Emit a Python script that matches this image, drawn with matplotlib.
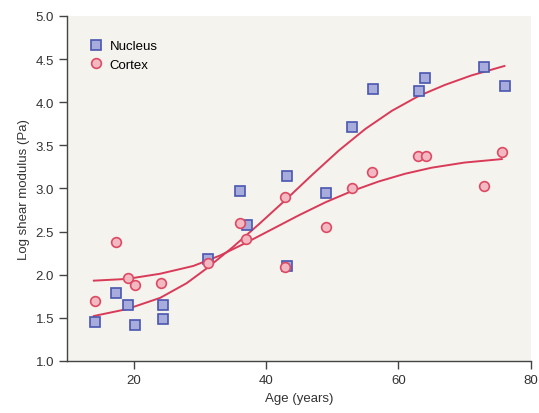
import matplotlib
matplotlib.use("Agg")
import matplotlib.pyplot as plt

plt.rcParams['font.family'] = ['Liberation Sans', 'DejaVu Sans']

# measured points
nucleus_age = [14.1, 17.4, 19.1, 20.2, 24.4, 24.4, 31.2, 36.1, 37.2, 43.1, 43.1,
               49.1, 53.0, 56.2, 63.1, 64.0, 72.9, 76.1]
nucleus_mod = [1.45, 1.79, 1.65, 1.42, 1.65, 1.48, 2.18, 2.97, 2.58, 3.14, 2.10,
               2.95, 3.71, 4.15, 4.13, 4.28, 4.41, 4.19]

cortex_age = [14.1, 17.3, 19.1, 20.2, 24.1, 31.2, 36.0, 37.0, 42.9, 42.9,
              49.1, 53.0, 56.0, 63.0, 64.2, 72.9, 75.7]
cortex_mod = [1.69, 2.38, 1.96, 1.88, 1.90, 2.13, 2.60, 2.41, 2.90, 2.09,
              2.55, 3.00, 3.19, 3.38, 3.38, 3.03, 3.42]

# fitted curves
nucleus_fit_age = [14, 19, 24, 28, 31, 35, 39, 43, 47, 51, 55, 59, 63, 67, 71, 76]
nucleus_fit = [1.52, 1.60, 1.73, 1.90, 2.07, 2.32, 2.59, 2.87, 3.16, 3.44, 3.69,
               3.90, 4.07, 4.20, 4.31, 4.42]

cortex_fit_age = [14, 19, 24, 29, 33, 37, 41, 45, 49, 53, 57, 61, 65, 70, 75.6]
cortex_fit = [1.93, 1.95, 2.01, 2.10, 2.22, 2.37, 2.53, 2.69, 2.84, 2.97, 3.08,
              3.17, 3.24, 3.30, 3.34]

line_col = '#d93a58'

fig = plt.figure(figsize=(5.39, 4.14), dpi=100)
ax = fig.add_axes([0.125, 0.126, 0.86, 0.833])
ax.set_facecolor('#f4f3ee')

ax.plot(nucleus_fit_age, nucleus_fit, color=line_col, lw=1.4, zorder=2)
ax.plot(cortex_fit_age, cortex_fit, color=line_col, lw=1.4, zorder=2)

ax.plot(nucleus_age, nucleus_mod, 's', ms=6.5, mfc='#a8acdc', mec='#4a56b0',
        mew=1.2, label='Nucleus', zorder=3)
ax.plot(cortex_age, cortex_mod, 'o', ms=7, mfc='#f3b9c2', mec='#dc4a63',
        mew=1.2, label='Cortex', zorder=4)

ax.set_xlim(10, 80)
ax.set_ylim(1.0, 5.0)
ax.set_xticks([20, 40, 60, 80])
ax.set_yticks([1.0, 1.5, 2.0, 2.5, 3.0, 3.5, 4.0, 4.5, 5.0])
ax.set_yticklabels(['1.0', '1.5', '2.0', '2.5', '3.0', '3.5', '4.0', '4.5', '5.0'])

for s in ['top', 'right']:
    ax.spines[s].set_visible(False)
for s in ['left', 'bottom']:
    ax.spines[s].set_color('#444444')
    ax.spines[s].set_linewidth(1.0)
ax.tick_params(colors='#444444', labelcolor='#333333', labelsize=9.5, length=6, width=1.0)

ax.set_xlabel('Age (years)', fontsize=9.5, color='#333333')
ax.set_ylabel('Log shear modulus (Pa)', fontsize=9.5, color='#333333')

ax.legend(loc='upper left', bbox_to_anchor=(0.02, 0.965), frameon=False,
          fontsize=9.5, handletextpad=0.4, labelspacing=0.5, handlelength=1.2)

fig.savefig('out.png', dpi=100)
